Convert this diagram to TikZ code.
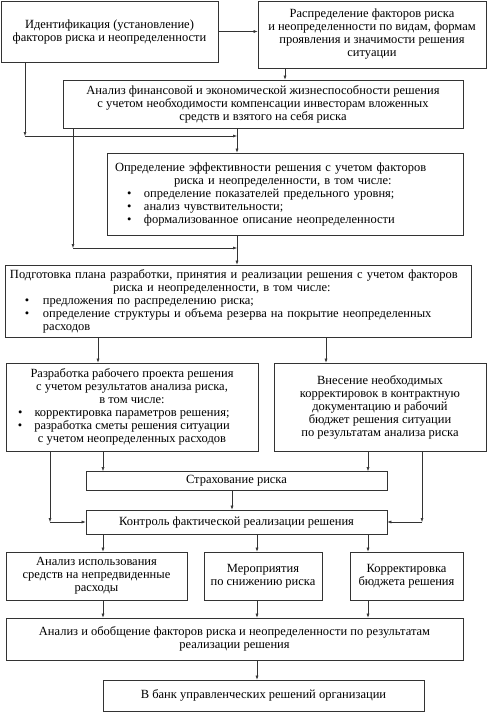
\documentclass[tikz,border=0pt]{standalone}
\usepackage{fontspec}
\setmainfont{Liberation Serif}
\usepackage{tikz}
\usetikzlibrary{arrows.meta}

\begin{document}
\begin{tikzpicture}[
                    x=1pt, y=-1pt,
                    box style/.style={
                        rectangle,
                        draw=black!80,
                        line width=0.7pt,
                        fill=white,
                        align=center,
                        font=\fontsize{12.5}{13}\selectfont,
                        inner sep=0pt
                    },
                    list style/.style={box style, align=left},
                    edge style/.style={draw=black!80, line width=0.5pt, -{Latex[length=4pt,width=3pt]}}
                ]
                    \useasboundingbox (0,0) rectangle (489,712);

                    % boxes
                    \node[box style, minimum width=217pt, minimum height=61pt] (ident) at (109.5,31.5)
                        {Идентификация (установление)\\факторов риска и неопределенности};
                    \node[box style, minimum width=228pt, minimum height=67pt] (distr) at (372,34.5)
                        {Распределение факторов риска\\и неопределенности по видам, формам\\проявления и значимости решения\\ситуации};
                    \node[box style, minimum width=400pt, minimum height=48pt] (anal) at (263,104)
                        {Анализ финансовой и экономической жизнеспособности решения\\с учетом необходимости компенсации инвесторам вложенных\\средств и взятого на себя риска};
                    \node[list style, text width=356pt, minimum height=82pt] (eff) at (285,194)
                        {\hspace*{8pt}Определение эффективности решения с учетом факторов\\
                         \hspace*{67pt}риска и неопределенности, в том числе:\\
                         \hspace*{20pt}\makebox[17pt][l]{\textbullet}определение показателей предельного уровня;\\
                         \hspace*{20pt}\makebox[17pt][l]{\textbullet}анализ чувствительности;\\
                         \hspace*{20pt}\makebox[17pt][l]{\textbullet}формализованное описание неопределенности};
                    \node[list style, text width=466pt, minimum height=72pt] (plan) at (238,301)
                        {\hspace*{5pt}Подготовка плана разработки, принятия и реализации решения с учетом факторов\\
                         \hspace*{108pt}риска и неопределенности, в том числе:\\
                         \hspace*{20pt}\makebox[18pt][l]{\textbullet}предложения по распределению риска;\\
                         \hspace*{20pt}\makebox[18pt][l]{\textbullet}определение структуры и объема резерва на покрытие неопределенных\\
                         \hspace*{38pt}расходов};
                    \node[box style, minimum width=252pt, minimum height=88pt] (work) at (132,407)
                        {Разработка рабочего проекта решения\\с учетом результатов анализа риска,\\в том числе:\\
                         \llap{\textbullet\hspace{12pt}}корректировка параметров решения;\\
                         \llap{\textbullet\hspace{12pt}}разработка сметы решения ситуации\\
                         с учетом неопределенных расходов};
                    \node[box style, minimum width=212pt, minimum height=88pt] (budget) at (380,407)
                        {Внесение необходимых\\корректировок в контрактную\\документацию и рабочий\\бюджет решения ситуации\\по результатам анализа риска};
                    \node[box style, minimum width=301pt, minimum height=19pt] (insur) at (236.5,481)
                        {Страхование риска};
                    \node[box style, minimum width=301pt, minimum height=24pt] (control) at (236.5,522)
                        {Контроль фактической реализации решения};
                    \node[box style, minimum width=181pt, minimum height=48pt] (unforeseen) at (96.5,576)
                        {Анализ использования\\средств на непредвиденные\\расходы};
                    \node[box style, minimum width=118pt, minimum height=48pt] (reduce) at (263,576)
                        {Мероприятия\\по снижению риска};
                    \node[box style, minimum width=113pt, minimum height=48pt] (correct) at (406.5,576)
                        {Корректировка\\бюджета решения};
                    \node[box style, minimum width=457pt, minimum height=42pt] (summary) at (234.5,639)
                        {Анализ и обобщение факторов риска и неопределенности по результатам\\реализации решения};
                    \node[box style, minimum width=321pt, minimum height=31pt] (bank) at (263.5,695.5)
                        {В банк управленческих решений организации};

                    % columns and corners
                    \coordinate (x distr) at (285,0);
                    \coordinate (x spine) at (237,0);
                    \coordinate (k ident) at (25,136);
                    \coordinate (k anal) at (73,248);
                    \coordinate (x work) at (98,0);
                    \coordinate (x budget) at (326,0);
                    \coordinate (x left) at (50,0);
                    \coordinate (x right) at (422,0);
                    \coordinate (x one) at (103,0);
                    \coordinate (x two) at (257,0);
                    \coordinate (x three) at (368,0);
                    \coordinate (x insur) at (232,0);

                    % connectors
                    \draw[edge style] (ident.east) -- (ident.east -| distr.west);
                    \draw[edge style] (distr.south -| x distr) -- (anal.north -| x distr);
                    \draw[edge style] (ident.south -| k ident) -- (k ident);
                    \draw[edge style] (k ident) -- (k ident -| x spine);
                    \draw[edge style] (anal.south -| x spine) -- (eff.north -| x spine);
                    \draw[edge style] (anal.south -| k anal) -- (k anal);
                    \draw[edge style] (k anal) -- (k anal -| x spine);
                    \draw[edge style] (eff.south -| x spine) -- (plan.north -| x spine);
                    \draw[edge style] (plan.south -| x work) -- (work.north -| x work);
                    \draw[edge style] (plan.south -| x budget) -- (budget.north -| x budget);
                    \draw[edge style] (work.south -| x one) -- (insur.north -| x one);
                    \draw[edge style] (budget.south -| x three) -- (insur.north -| x three);
                    \draw[edge style] (insur.south -| x insur) -- (control.north -| x insur);
                    \draw[edge style] (work.south -| x left) -- (x left |- control.west);
                    \draw[edge style] (x left |- control.west) -- (control.west);
                    \draw[edge style] (budget.south -| x right) -- (x right |- control.east);
                    \draw[edge style] (x right |- control.east) -- (control.east);
                    \draw[edge style] (control.south -| x one) -- (unforeseen.north -| x one);
                    \draw[edge style] (control.south -| x two) -- (reduce.north -| x two);
                    \draw[edge style] (control.south -| x three) -- (correct.north -| x three);
                    \draw[edge style] (unforeseen.south -| x one) -- (summary.north -| x one);
                    \draw[edge style] (reduce.south -| x two) -- (summary.north -| x two);
                    \draw[edge style] (correct.south -| x three) -- (summary.north -| x three);
                    \draw[edge style] (summary.south -| x two) -- (bank.north -| x two);
                \end{tikzpicture}
\end{document}
